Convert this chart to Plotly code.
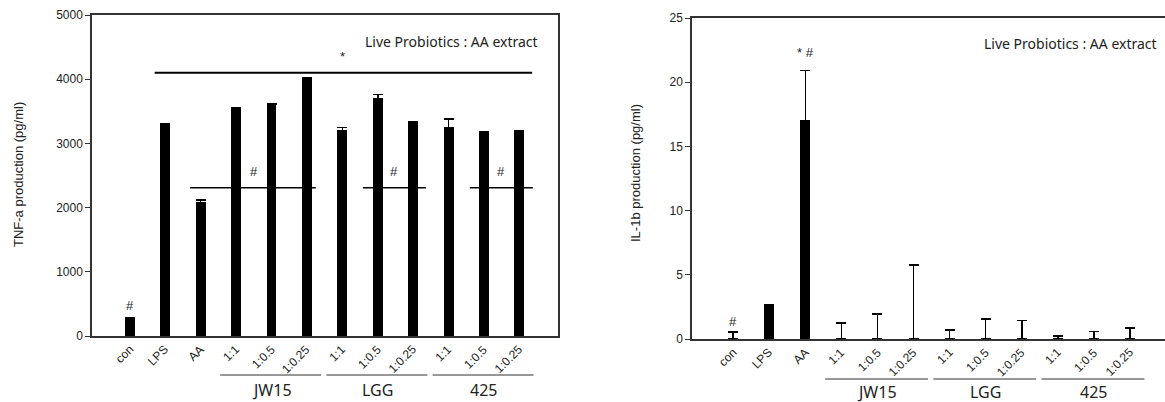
import plotly.graph_objects as go

# ---------------- data ----------------
tick_labels = ["con", "LPS", "AA", "1:1", "1:0.5", "1:0.25",
               "1:1", "1:0.5", "1:0.25", "1:1", "1:0.5", "1:0.25"]
groups = ["JW15", "LGG", "425"]
group_span = [(3, 5), (6, 8), (9, 11)]

tnf_values = [290, 3310, 2080, 3550, 3610, 4020, 3200, 3700, 3340, 3250, 3180, 3190]
tnf_errors = [0, 0, 40, 0, 0, 0, 50, 60, 0, 130, 0, 0]

il1b_values = [0, 2.6, 17.0, 0, 0, 0, 0, 0, 0, 0, 0, 0]
il1b_errors = [0.55, 0.1, 3.9, 1.25, 1.95, 5.75, 0.7, 1.55, 1.45, 0.23, 0.6, 0.86]

xs = list(range(len(tick_labels)))

W, H = 1165, 402
def px_x(p): return p / W
def px_y(p): return 1 - p / H

fig = go.Figure()
err_style = dict(type="data", symmetric=False, color="black", thickness=1.5, width=5)

fig.add_trace(go.Bar(x=xs, y=tnf_values, width=0.28, marker=dict(color="black", line=dict(width=0)),
                     error_y=dict(array=tnf_errors, arrayminus=[0]*len(xs), **err_style),
                     xaxis="x", yaxis="y", showlegend=False))
fig.add_trace(go.Bar(x=xs, y=il1b_values, width=0.28, marker=dict(color="black", line=dict(width=0)),
                     error_y=dict(array=il1b_errors, arrayminus=[0]*len(xs), **err_style),
                     xaxis="x2", yaxis="y2", showlegend=False))

axis_line = dict(showline=True, linecolor="#333", linewidth=1.5, showgrid=False, zeroline=False,
                 automargin=False)
tick_font = dict(family="Liberation Sans, Arial", size=12, color="#222")
xtick_font = dict(family="Liberation Sans, Arial", size=12, color="#222")

fig.update_layout(
    width=W, height=H,
    margin=dict(l=0, r=0, t=0, b=0, pad=0, autoexpand=False),
    paper_bgcolor="white", plot_bgcolor="white",
    bargap=0,
    xaxis=dict(domain=[px_x(92), px_x(558)], range=[-1.07, 12.09], tickvals=xs, showticklabels=False,
               ticks="", mirror=True, anchor="y", **axis_line),
    yaxis=dict(domain=[px_y(336), px_y(15)], range=[0, 5000], tickvals=[0, 1000, 2000, 3000, 4000, 5000],
               ticks="outside", ticklen=5, tickcolor="#333", mirror=True, tickfont=tick_font,
               anchor="x", **axis_line),
    xaxis2=dict(domain=[px_x(692), 1.0], range=[-1.14, 11.97], tickvals=xs, showticklabels=False,
                ticks="", mirror=True, anchor="y2", **axis_line),
    yaxis2=dict(domain=[px_y(339), px_y(18)], range=[0, 25], tickvals=[0, 5, 10, 15, 20, 25],
                ticks="outside", ticklen=5, tickcolor="#333", mirror=False, tickfont=tick_font,
                anchor="x2", **axis_line),
)

shapes = []
annotations = []
label_font = dict(family="Noto Sans, Open Sans", size=14, color="#222")
grp_font = dict(family="Noto Sans, Open Sans", size=16, color="#222")
mark_font = dict(family="Liberation Sans, Arial", size=13, color="#222")
title_font = dict(family="Liberation Sans, Arial", size=13, color="#222")

# rotated category labels (annotations)
for xa, ytop in [("x", 341), ("x2", 344)]:
    for i, lab in zip(xs, tick_labels):
        annotations.append(dict(text=lab, x=i + 0.22, y=px_y(ytop), xref=xa, yref="paper",
                                xanchor="right", yanchor="top", textangle=-45, showarrow=False,
                                font=xtick_font, borderpad=0))

# y-axis titles
annotations.append(dict(text="TNF-a production (pg/ml)", x=px_x(19), y=px_y(175), xref="paper", yref="paper",
                        xanchor="center", yanchor="middle", textangle=-90, showarrow=False, font=title_font))
annotations.append(dict(text="IL-1b production (pg/ml)", x=px_x(635), y=px_y(173), xref="paper", yref="paper",
                        xanchor="center", yanchor="middle", textangle=-90, showarrow=False, font=title_font))

# legend-like texts
annotations.append(dict(text="Live Probiotics : AA extract", x=px_x(540), y=px_y(42), xref="paper", yref="paper",
                        xanchor="right", yanchor="middle", showarrow=False, font=label_font))
annotations.append(dict(text="Live Probiotics : AA extract", x=px_x(1159), y=px_y(44), xref="paper", yref="paper",
                        xanchor="right", yanchor="middle", showarrow=False, font=label_font))

# group lines & labels
for (xa, line_y, lab_y) in [("x", 375, 390), ("x2", 379, 392)]:
    for g, (a, b) in zip(groups, group_span):
        shapes.append(dict(type="line", xref=xa, yref="paper", x0=a - 0.45, x1=b + 0.4,
                           y0=px_y(line_y), y1=px_y(line_y), line=dict(color="#333", width=1.2)))
        annotations.append(dict(text=g, x=(a + b) / 2, y=px_y(lab_y), xref=xa, yref="paper",
                                xanchor="center", yanchor="middle", showarrow=False, font=grp_font))

# significance marks, left
shapes.append(dict(type="line", xref="x", yref="y", x0=0.7, x1=11.36, y0=4100, y1=4100,
                   line=dict(color="black", width=2)))
annotations.append(dict(text="*", x=6.0, y=4360, xref="x", yref="y", showarrow=False, font=mark_font))
for (a, b, c) in [(1.7, 5.25, 3.5), (6.58, 8.36, 7.46), (9.6, 11.38, 10.48)]:
    shapes.append(dict(type="line", xref="x", yref="y", x0=a, x1=b, y0=2310, y1=2310,
                       line=dict(color="black", width=1.5)))
    annotations.append(dict(text="#", x=c, y=2560, xref="x", yref="y", showarrow=False, font=mark_font))
annotations.append(dict(text="#", x=0, y=470, xref="x", yref="y", showarrow=False, font=mark_font))

# significance marks, right
annotations.append(dict(text="* #", x=2, y=22.3, xref="x2", yref="y2", showarrow=False, font=mark_font))
annotations.append(dict(text="#", x=0, y=1.4, xref="x2", yref="y2", showarrow=False, font=mark_font))

fig.update_layout(shapes=shapes, annotations=annotations)
fig.write_html("out.html")
